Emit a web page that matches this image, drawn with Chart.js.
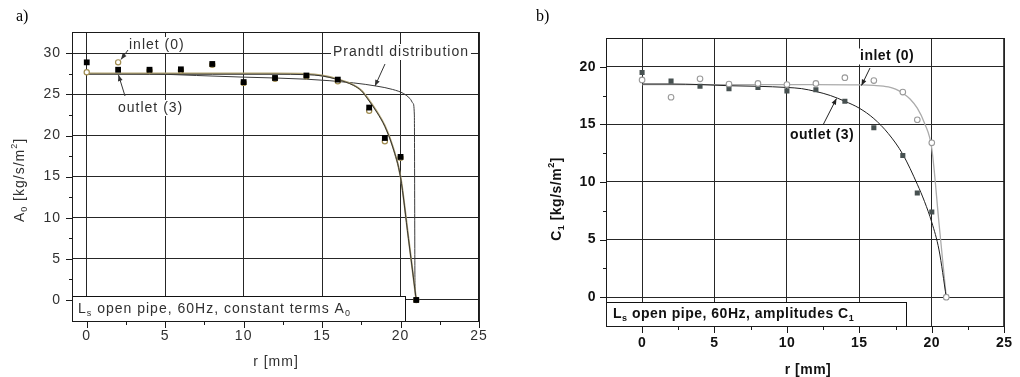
<!DOCTYPE html>
<html>
<head>
<meta charset="utf-8">
<script src="https://cdn.jsdelivr.net/npm/chart.js@4"></script>
<style>
  html, body { margin: 0; padding: 0; background: #fff; }
  #wrap { position: relative; width: 1020px; height: 377px; }
  canvas { position: absolute; top: 0; }
  #chartA { left: 0; }
  #chartB { left: 510px; }
</style>
</head>
<body>
<div id="wrap">
  <canvas id="chartA" width="510" height="377"></canvas>
  <canvas id="chartB" width="510" height="377"></canvas>
</div>
<script>
// ---- panel a) constant terms A0 ----
const rA = [0, 2, 4, 6, 8, 10, 12, 14, 16, 18, 19, 20, 21];
const outletA = [28.9, 28.0, 28.0, 28.05, 28.7, 26.5, 27.0, 27.3, 26.8, 23.4, 19.7, 17.4, 0];
const inletA = [27.7, 28.9, 27.9, 27.9, 28.6, 26.4, 26.9, 27.2, 26.6, 23.0, 19.3, 17.3, 0];

const fitRA = [0, 4, 8, 12, 14, 15, 16, 17, 17.5, 18, 18.5, 19, 19.5, 20, 20.5, 21];
const inletFitA = [27.55, 27.55, 27.55, 27.55, 27.5, 27.3, 26.85, 26.15, 25.5, 24.3, 22.9, 21.2, 18.7, 15.0, 7.6, 0];
const outletFitA = [27.45, 27.45, 27.45, 27.45, 27.4, 27.25, 26.8, 26.1, 25.45, 24.2, 22.8, 21.1, 18.6, 14.9, 7.5, 0];

const prandtlR = [0, 4, 7, 10, 14, 17, 18.5, 19.5, 20.2, 20.6, 20.8, 20.88, 20.92, 21];
const prandtlA = [27.55, 27.5, 27.3, 27.1, 26.85, 26.4, 26.0, 25.6, 25.1, 24.5, 23.9, 22.5, 2.0, 0];

const xTicksA = [0, 2.5, 5, 7.5, 10, 12.5, 15, 17.5, 20, 22.5, 25];
const yTicksA = [0, 2.5, 5, 7.5, 10, 12.5, 15, 17.5, 20, 22.5, 25, 27.5, 30];

// ---- panel b) amplitudes C1 ----
const rB = [0, 2, 4, 6, 8, 10, 12, 14, 16, 18, 19, 20, 21];
const outletB = [19.5, 18.75, 18.3, 18.1, 18.2, 17.9, 18.0, 17.0, 14.7, 12.3, 9.05, 7.4, 0];
const inletB = [18.85, 17.35, 18.95, 18.5, 18.55, 18.45, 18.55, 19.05, 18.8, 17.8, 15.4, 13.4, 0];

const inletFitRB = [0, 4, 8, 12, 15, 16, 17, 17.5, 18, 18.5, 19, 19.5, 20, 20.5, 21];
const inletFitB = [18.45, 18.45, 18.45, 18.45, 18.42, 18.38, 18.25, 18.05, 17.7, 17.2, 16.4, 15.1, 12.9, 6.4, 0];
const outletFitRB = [0, 2, 4, 6, 8, 10, 11, 12, 13, 14, 15, 16, 17, 18, 19, 19.5, 20, 20.5, 21];
const outletFitB = [18.5, 18.5, 18.45, 18.35, 18.3, 18.2, 18.1, 17.85, 17.5, 17.0, 16.4, 15.5, 14.2, 12.4, 9.8, 8.3, 6.5, 4.1, 0];

const xTicksB = [0, 2.5, 5, 7.5, 10, 12.5, 15, 17.5, 20, 22.5, 25];
const yTicksB = [0, 2.5, 5, 7.5, 10, 12.5, 15, 17.5, 20];

const W = 510, H = 377;
const FAMILY = '"Liberation Sans", Arial, sans-serif';

function pts(xs, ys) {
  return xs.map((x, i) => ({ x: x, y: ys[i] }));
}

// draws text made of plain / sub / sup parts
function richText(ctx, parts, x, y, size, weight, align) {
  const small = Math.round(size * 0.62);
  let total = 0;
  parts.forEach(p => {
    ctx.font = weight + ' ' + (p.sub || p.sup ? small : size) + 'px ' + FAMILY;
    p.w = ctx.measureText(p.t).width;
    total += p.w;
  });
  let cx = align === 'center' ? x - total / 2 : x;
  ctx.textBaseline = 'middle';
  ctx.textAlign = 'left';
  parts.forEach(p => {
    ctx.font = weight + ' ' + (p.sub || p.sup ? small : size) + 'px ' + FAMILY;
    let dy = p.sub ? size * 0.32 : (p.sup ? -size * 0.36 : 0);
    ctx.fillText(p.t, cx, y + dy);
    cx += p.w;
  });
  return total;
}

function labelBox(ctx, text, x, y, size, weight) {
  ctx.font = weight + ' ' + size + 'px ' + FAMILY;
  const w = ctx.measureText(text).width;
  ctx.fillStyle = '#fff';
  ctx.fillRect(x - 2, y - size / 2 - 1, w + 4, size + 2);
  ctx.fillStyle = ctx._txtColor;
  ctx.textAlign = 'left';
  ctx.textBaseline = 'middle';
  ctx.fillText(text, x, y);
}

function arrow(ctx, x1, y1, x2, y2) {
  ctx.beginPath();
  ctx.moveTo(x1, y1);
  ctx.lineTo(x2, y2);
  ctx.stroke();
  const a = Math.atan2(y2 - y1, x2 - x1);
  const len = 6, wid = 2.4;
  ctx.beginPath();
  ctx.moveTo(x2, y2);
  ctx.lineTo(x2 - len * Math.cos(a) + wid * Math.sin(a), y2 - len * Math.sin(a) - wid * Math.cos(a));
  ctx.lineTo(x2 - len * Math.cos(a) - wid * Math.sin(a), y2 - len * Math.sin(a) + wid * Math.cos(a));
  ctx.closePath();
  ctx.fill();
}

function makeChart(id, cfg) {
  const area = cfg.area;
  const gridColor = c => (c.tick && c.tick.value % 5 === 0) ? '#262626' : 'rgba(0,0,0,0)';
  const tickFont = { family: FAMILY, size: 14, weight: cfg.weight };

  const decor = {
    id: 'decor' + id,
    beforeDraw(chart) {
      chart.ctx.letterSpacing = cfg.spacing;
    },
    beforeDatasetsDraw(chart) {
      // annotation box in the lower left corner
      const ctx = chart.ctx;
      const b = cfg.box;
      ctx.save();
      ctx.fillStyle = '#fff';
      ctx.fillRect(b.x1, b.y1, b.x2 - b.x1, b.y2 - b.y1);
      ctx.strokeStyle = '#111';
      ctx.lineWidth = 1;
      ctx.strokeRect(b.x1 + 0.5, b.y1 + 0.5, b.x2 - b.x1, b.y2 - b.y1);
      ctx.restore();
    },
    afterDraw(chart) {
      const ctx = chart.ctx;
      const ca = chart.chartArea;
      const xs = chart.scales.x, ys = chart.scales.y;
      ctx.save();
      ctx.letterSpacing = cfg.spacing;
      ctx.strokeStyle = '#1a1a1a';
      ctx.lineWidth = 1;
      // frame
      ctx.strokeRect(ca.left + 0.5, ca.top + 0.5, ca.right - ca.left - 1, ca.bottom - ca.top - 1);
      // tick marks, outward
      ctx.beginPath();
      cfg.yTicks.forEach(v => {
        const py = Math.round(ys.getPixelForValue(v)) + 0.5;
        const len = v % 5 === 0 ? 6 : 3;
        ctx.moveTo(ca.left - len, py);
        ctx.lineTo(ca.left, py);
      });
      cfg.xTicks.forEach(v => {
        const px = Math.round(xs.getPixelForValue(v)) + 0.5;
        const len = v % 5 === 0 ? 6 : 3;
        ctx.moveTo(px, ca.bottom);
        ctx.lineTo(px, ca.bottom + len);
      });
      ctx.stroke();
      ctx.fillStyle = cfg.color;
      ctx._txtColor = cfg.color;
      cfg.draw(ctx, chart);
      ctx.restore();
    }
  };

  return new Chart(document.getElementById(id), {
    type: 'scatter',
    data: { datasets: cfg.datasets },
    options: {
      responsive: false,
      animation: false,
      devicePixelRatio: 1,
      events: [],
      layout: { padding: { top: area.top, right: W - area.right, left: 0, bottom: 0 } },
      plugins: { legend: { display: false }, tooltip: { enabled: false } },
      scales: {
        x: {
          type: 'linear',
          min: cfg.xMin,
          max: cfg.xMax,
          afterBuildTicks: s => { s.ticks = cfg.xTicks.map(v => ({ value: v })); },
          afterFit: s => { s.height = H - area.bottom; },
          border: { display: false },
          grid: { color: gridColor, lineWidth: 1, drawTicks: false },
          ticks: {
            autoSkip: false,
            maxRotation: 0,
            padding: cfg.xPad,
            color: cfg.color,
            font: tickFont,
            callback: v => (v % 5 === 0 ? String(v) : '')
          }
        },
        y: {
          type: 'linear',
          min: cfg.yMin,
          max: cfg.yMax,
          afterBuildTicks: s => { s.ticks = cfg.yTicks.map(v => ({ value: v })); },
          afterFit: s => { s.width = area.left; },
          border: { display: false },
          grid: { color: gridColor, lineWidth: 1, drawTicks: false },
          ticks: {
            autoSkip: false,
            padding: cfg.yPad,
            color: cfg.color,
            font: tickFont,
            callback: v => (v % 5 === 0 ? String(v) : '')
          }
        }
      }
    },
    plugins: [decor]
  });
}

// ---------- chart a ----------
makeChart('chartA', {
  area: { left: 72, top: 32, right: 479, bottom: 322 },
  xMin: -0.94, xMax: 25,
  yMin: -2.68, yMax: 32.59,
  xTicks: xTicksA, yTicks: yTicksA,
  xPad: 5.5, yPad: 11,
  weight: 'normal', spacing: '1px', color: '#303030',
  box: { x1: 72, y1: 296, x2: 405, y2: 321 },
  datasets: [
    { label: 'outlet (3)', data: pts(rA, outletA), pointStyle: 'rect', pointRadius: 4.1,
      backgroundColor: '#000', borderColor: '#000', borderWidth: 0, showLine: false },
    { label: 'inlet (0)', data: pts(rA, inletA), pointStyle: 'circle', pointRadius: 2.6,
      backgroundColor: '#fff', borderColor: '#a08c50', borderWidth: 1.2, showLine: false },
    { label: 'outlet fit', data: pts(fitRA, outletFitA), showLine: true, pointRadius: 0,
      borderColor: '#333', borderWidth: 1, cubicInterpolationMode: 'monotone' },
    { label: 'inlet fit', data: pts(fitRA, inletFitA), showLine: true, pointRadius: 0,
      borderColor: '#b3a575', borderWidth: 1.8, cubicInterpolationMode: 'monotone' },
    { label: 'Prandtl distribution', data: pts(prandtlR, prandtlA), showLine: true, pointRadius: 0,
      borderColor: '#3a3a3a', borderWidth: 1, cubicInterpolationMode: 'monotone' }
  ],
  draw(ctx) {
    // panel letter
    ctx.letterSpacing = '0px';
    ctx.fillStyle = '#000';
    ctx.font = '16px "Liberation Serif", serif';
    ctx.textBaseline = 'middle';
    ctx.textAlign = 'left';
    ctx.fillText('a)', 16, 17);
    ctx.letterSpacing = '1px';
    ctx.fillStyle = '#303030';
    // axis titles
    richText(ctx, [{ t: 'r [mm]' }], 276, 362, 14, 'normal', 'center');
    ctx.save();
    ctx.translate(20, 180);
    ctx.rotate(-Math.PI / 2);
    richText(ctx, [{ t: 'A' }, { t: '0', sub: true }, { t: ' [kg/s/m' }, { t: '2', sup: true }, { t: ']' }], 0, 0, 14, 'normal', 'center');
    ctx.restore();
    // box text
    richText(ctx, [{ t: 'L' }, { t: 's', sub: true }, { t: ' open pipe, 60Hz, constant terms A' }, { t: '0', sub: true }], 78, 309, 14, 'normal', 'left');
    // annotations
    labelBox(ctx, 'inlet (0)', 129, 45, 14, 'normal');
    labelBox(ctx, 'outlet (3)', 118, 108, 14, 'normal');
    labelBox(ctx, 'Prandtl distribution', 333, 52, 14, 'normal');
    ctx.strokeStyle = '#333';
    ctx.fillStyle = '#333';
    ctx.lineWidth = 1;
    arrow(ctx, 128, 50, 121, 59.5);
    arrow(ctx, 125, 96, 118.5, 75);
    arrow(ctx, 385, 64, 375, 86);
  }
});

// ---------- chart b ----------
makeChart('chartB', {
  area: { left: 96, top: 38, right: 502, bottom: 327 },
  xMin: -2.49, xMax: 25,
  yMin: -2.58, yMax: 22.49,
  xTicks: xTicksB, yTicks: yTicksB,
  xPad: 8, yPad: 10,
  weight: 'bold', spacing: '0.5px', color: '#111',
  box: { x1: 96, y1: 302, x2: 396, y2: 326 },
  datasets: [
    { label: 'inlet (0)', data: pts(rB, inletB), pointStyle: 'circle', pointRadius: 2.8,
      backgroundColor: '#fff', borderColor: '#9a9a9a', borderWidth: 1.1, showLine: false },
    { label: 'outlet (3)', data: pts(rB, outletB), pointStyle: 'rect', pointRadius: 3.6,
      backgroundColor: '#475151', borderColor: '#475151', borderWidth: 0, showLine: false },
    { label: 'outlet fit', data: pts(outletFitRB, outletFitB), showLine: true, pointRadius: 0,
      borderColor: '#1e1e1e', borderWidth: 1, cubicInterpolationMode: 'monotone' },
    { label: 'inlet fit', data: pts(inletFitRB, inletFitB), showLine: true, pointRadius: 0,
      borderColor: '#ababab', borderWidth: 1.3, cubicInterpolationMode: 'monotone' }
  ],
  draw(ctx) {
    ctx.letterSpacing = '0px';
    ctx.fillStyle = '#000';
    ctx.font = '16px "Liberation Serif", serif';
    ctx.textBaseline = 'middle';
    ctx.textAlign = 'left';
    ctx.fillText('b)', 26, 17);
    ctx.letterSpacing = '0.5px';
    ctx.fillStyle = '#111';
    richText(ctx, [{ t: 'r [mm]' }], 298, 370, 14, 'bold', 'center');
    ctx.save();
    ctx.translate(47, 199);
    ctx.rotate(-Math.PI / 2);
    richText(ctx, [{ t: 'C' }, { t: '1', sub: true }, { t: ' [kg/s/m' }, { t: '2', sup: true }, { t: ']' }], 0, 0, 14, 'bold', 'center');
    ctx.restore();
    richText(ctx, [{ t: 'L' }, { t: 's', sub: true }, { t: ' open pipe, 60Hz, amplitudes C' }, { t: '1', sub: true }], 103, 314, 14, 'bold', 'left');
    labelBox(ctx, 'inlet (0)', 350, 56.5, 14, 'bold');
    labelBox(ctx, 'outlet (3)', 280, 135, 14, 'bold');
    ctx.strokeStyle = '#222';
    ctx.fillStyle = '#222';
    ctx.lineWidth = 1;
    arrow(ctx, 360, 68, 351.5, 85.5);
    arrow(ctx, 313, 125, 326.5, 98.5);
  }
});
</script>
</body>
</html>
